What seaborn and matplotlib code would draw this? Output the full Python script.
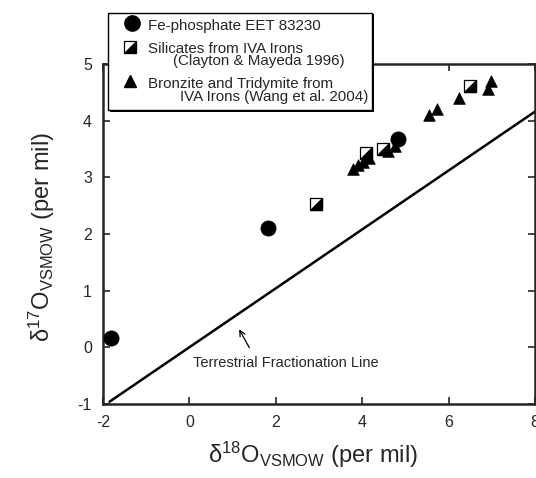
import numpy as np
import matplotlib
matplotlib.use("Agg")
import matplotlib.pyplot as plt
from matplotlib.lines import Line2D
from matplotlib.patches import Rectangle
import seaborn as sns

# ---- data ----
# Fe-phosphate EET 83230
phos_d18 = [-1.82, 1.82, 4.83]
phos_d17 = [0.16, 2.10, 3.67]

# Silicates from IVA irons (Clayton & Mayeda 1996)
sil_d18 = [2.93, 4.09, 4.48, 6.50]
sil_d17 = [2.53, 3.43, 3.50, 4.61]

# Bronzite and tridymite from IVA irons (Wang et al. 2004)
bt_d18 = [3.79, 3.90, 4.02, 4.16, 4.60, 4.75, 5.55, 5.73, 6.24, 6.91, 6.98]
bt_d17 = [3.15, 3.22, 3.27, 3.34, 3.47, 3.55, 4.10, 4.20, 4.40, 4.56, 4.70]

# terrestrial fractionation line end points
tfl_d18 = [-1.85, 8.0]
tfl_d17 = [-0.96, 4.16]

x_ticks = [-2, 0, 2, 4, 6, 8]
y_ticks = [-1, 0, 1, 2, 3, 4, 5]

sns.set_style("ticks")
plt.rcParams["font.family"] = ["Liberation Sans", "DejaVu Sans"]
plt.rcParams["mathtext.fontset"] = "custom"
plt.rcParams["mathtext.rm"] = "Liberation Sans"
plt.rcParams["mathtext.it"] = "Liberation Sans"
plt.rcParams["mathtext.default"] = "regular"
plt.rcParams["axes.unicode_minus"] = False

W, H = 536, 478
fig = plt.figure(figsize=(W / 100, H / 100), dpi=100)
ax = fig.add_axes([103 / W, 1 - 404 / H, 432 / W, 340 / H])

# lower-right black half of the silicate square
half_tri = [(-1, -1), (1, -1), (1, 1), (-1, -1)]

ax.plot(tfl_d18, tfl_d17, color="black", lw=1.8, zorder=2)
sns.scatterplot(x=sil_d18, y=sil_d17, marker="s", s=75, color="white",
                edgecolor="black", linewidth=0.9, ax=ax, zorder=3)
sns.scatterplot(x=sil_d18, y=sil_d17, marker=half_tri, s=75, color="black",
                edgecolor="black", linewidth=0.9, ax=ax, zorder=3)
sns.scatterplot(x=bt_d18, y=bt_d17, marker="^", s=70, color="black",
                edgecolor="black", linewidth=0.5, ax=ax, zorder=4)
sns.scatterplot(x=phos_d18, y=phos_d17, marker="o", s=120, color="black",
                edgecolor="black", linewidth=0.5, ax=ax, zorder=5, clip_on=False)

ax.annotate("Terrestrial Fractionation Line", xy=(1.12, 0.36), xytext=(0.08, -0.27),
            fontsize=10.5, va="center", ha="left")
ax.annotate("", xy=(1.12, 0.36), xytext=(1.42, -0.05),
            arrowprops=dict(arrowstyle="->", color="black", lw=0.9))

ax.set_xlim(-2, 8)
ax.set_ylim(-1, 5)
ax.set_xticks(x_ticks)
ax.set_yticks(y_ticks)
ax.tick_params(direction="in", length=5, width=1.2, top=True, right=True,
               labelsize=11.5, pad=8)
for sp in ax.spines.values():
    sp.set_linewidth(1.8)
    sp.set_visible(True)

ax.set_xlabel(r"$\delta^{18}$O$_{VSMOW}$ (per mil)", fontsize=17, va="top")
ax.xaxis.set_label_coords(0.486, -0.105)
ax.set_ylabel(r"$\delta^{17}$O$_{VSMOW}$ (per mil)", fontsize=17, va="center")
ax.yaxis.set_label_coords(-0.142, 0.491)


# ---- legend box (drawn in figure pixels) ----
def fx(px):
    return px / W


def fy(py):
    return 1 - py / H


fig.add_artist(Rectangle((fx(109.5), fy(111.5)), fx(264), 97 / H,
                         transform=fig.transFigure, facecolor="black",
                         edgecolor="black", lw=0, zorder=10))
fig.add_artist(Rectangle((fx(108), fy(110)), fx(264), 97 / H,
                         transform=fig.transFigure, facecolor="white",
                         edgecolor="black", lw=1.0, zorder=11))

fig.add_artist(Line2D([fx(132)], [fy(23)], marker="o", ms=11, color="black",
                      ls="none", transform=fig.transFigure, zorder=12))
fig.add_artist(Line2D([fx(130)], [fy(47)], marker="s", ms=8.5, mfc="white",
                      mec="black", mew=0.9, ls="none",
                      transform=fig.transFigure, zorder=12))
fig.add_artist(Line2D([fx(130)], [fy(47)], marker=half_tri, ms=8.5, color="black",
                      mew=0.9, ls="none", transform=fig.transFigure, zorder=12))
fig.add_artist(Line2D([fx(130)], [fy(81)], marker="^", ms=8, color="black",
                      ls="none", transform=fig.transFigure, zorder=12))

legend_lines = [
    (148, 30, "Fe-phosphate EET 83230"),
    (148, 53, "Silicates from IVA Irons"),
    (173, 65.5, "(Clayton & Mayeda 1996)"),
    (148, 88, "Bronzite and Tridymite from"),
    (180, 100.5, "IVA Irons (Wang et al. 2004)"),
]
for px, py, txt in legend_lines:
    fig.text(fx(px), fy(py), txt, fontsize=10.9, ha="left", va="baseline", zorder=13)

fig.savefig("out.png", dpi=100)
